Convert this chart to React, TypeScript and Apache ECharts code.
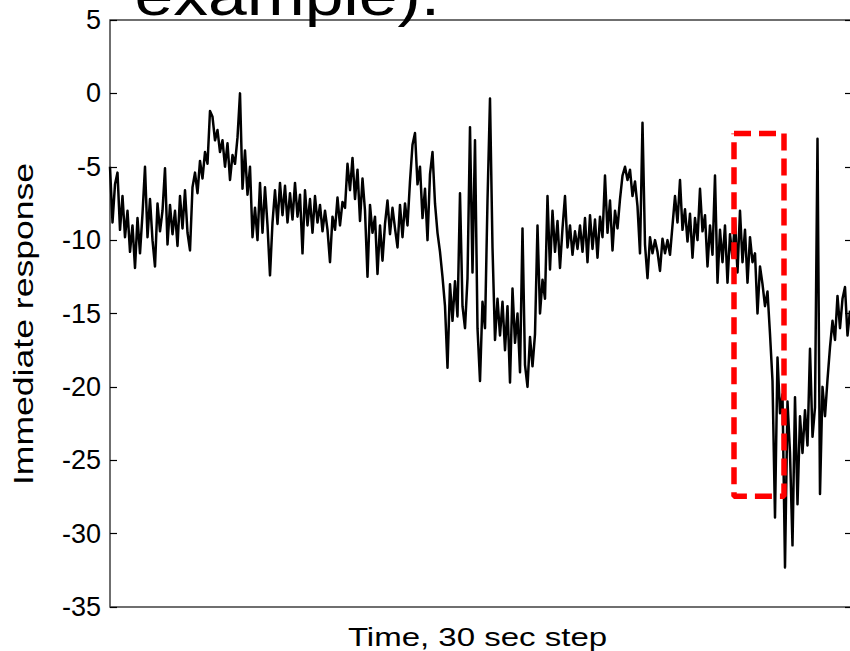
import React, { useEffect, useRef } from "react";
import * as echarts from "echarts";

// Immediate response, one value per sample (30 sec step)
const responseValues: number[] = [
  -5.0, -8.8, -6.2, -5.4, -9.3, -7.0, -9.8, -8.0, -10.8, -9.0,
  -11.9, -8.5, -10.9, -8.2, -5.0, -9.8, -7.2, -10.0, -11.8, -7.5,
  -9.4, -8.0, -5.1, -10.3, -7.6, -9.6, -8.0, -10.4, -7.0, -9.2,
  -6.6, -9.5, -10.7, -6.4, -5.4, -6.8, -4.6, -5.8, -4.0, -4.8,
  -1.2, -1.6, -3.2, -2.5, -4.0, -3.2, -5.0, -3.4, -5.9, -4.2,
  -4.8, -3.0, 0.0, -6.5, -3.9, -6.9, -5.0, -9.8, -7.8, -10.0,
  -6.1, -9.5, -6.4, -9.0, -12.4, -8.8, -6.6, -8.9, -6.1, -8.3,
  -6.3, -8.8, -6.8, -8.6, -6.1, -8.4, -6.9, -10.9, -6.6, -9.0,
  -7.2, -9.5, -7.0, -8.8, -7.6, -9.4, -8.0, -9.3, -11.5, -8.4,
  -9.3, -7.1, -9.0, -7.4, -7.8, -4.8, -6.6, -4.4, -7.2, -5.2,
  -8.7, -5.8, -8.0, -12.5, -7.6, -9.5, -8.4, -12.3, -9.0, -11.4,
  -8.9, -7.3, -9.6, -7.8, -9.2, -10.5, -7.6, -9.8, -7.5, -9.0,
  -6.0, -3.5, -2.7, -6.2, -5.0, -8.5, -6.5, -10.0, -5.5, -4.0,
  -7.5, -9.5, -10.8, -12.5, -14.5, -18.7, -13.0, -15.5, -12.8, -15.2,
  -6.8, -14.5, -16.0, -12.6, -2.3, -12.2, -3.2, -16.0, -19.6, -14.2,
  -16.0, -7.3, -0.35, -10.5, -16.8, -14.0, -16.5, -14.2, -17.5, -14.5,
  -19.7, -13.3, -17.0, -15.0, -19.0, -9.2, -18.5, -20.0, -16.6, -18.6,
  -16.4, -9.0, -15.0, -12.7, -14.0, -7.0, -12.0, -8.0, -10.8, -8.7,
  -11.9, -9.2, -7.0, -10.5, -9.0, -11.0, -9.4, -10.6, -9.0, -10.8,
  -8.5, -11.5, -8.3, -10.6, -8.6, -11.2, -8.4, -9.8, -5.6, -9.5,
  -7.3, -10.7, -8.0, -9.2, -7.2, -5.6, -5.0, -5.9, -5.2, -7.0,
  -6.0, -7.7, -10.9, -2.0, -10.3, -12.6, -9.8, -10.9, -10.0, -10.8,
  -12.1, -9.9, -10.9, -10.0, -11.0, -9.0, -7.0, -8.8, -5.9, -9.3,
  -7.9, -10.1, -8.2, -11.2, -8.5, -10.0, -6.5, -9.4, -8.3, -11.8,
  -9.0, -11.0, -5.6, -12.9, -9.3, -11.5, -9.0, -12.9, -9.6, -11.2,
  -8.6, -12.2, -8.0, -11.5, -9.3, -12.9, -9.8, -11.5, -10.9, -15.0,
  -11.8, -13.0, -14.5, -13.5, -16.4, -19.6, -28.9, -18.0, -21.8, -20.5,
  -32.3, -21.0, -24.5, -30.8, -20.7, -28.0, -22.0, -24.5, -21.6, -24.0,
  -17.4, -23.4, -21.4, -3.1, -27.3, -20.0, -22.0, -19.5, -17.3, -15.5,
  -16.8, -13.8, -16.0, -14.0, -13.2, -16.5, -14.8,
];

// Highlighted window (red dashed box): time-step range and response range
const boxTimes: number[] = [249.6, 269.6];
const boxResponses: number[] = [-2.73, -27.46];

// Y-axis ticks
const yTicks: number[] = [-35, -30, -25, -20, -15, -10, -5, 0, 5];

const titleText = "example).";
const xAxisTitle = "Time, 30 sec step";
const yAxisTitle = "Immediate response";

const FONT = "'Liberation Sans', Arial, Helvetica, sans-serif";

export default function App() {
  const ref = useRef<HTMLDivElement>(null);

  useEffect(() => {
    if (!ref.current) return;
    const chart = echarts.init(ref.current, undefined, { renderer: "svg" });

    const lineData = responseValues.map((v, i) => [i, v]);
    const [t0, t1] = boxTimes;
    const [rTop, rBot] = boxResponses;
    const boxData = [
      [t0, rTop],
      [t1, rTop],
      [t1, rBot],
      [t0, rBot],
      [t0, rTop],
    ];

    const yMin = yTicks[0];
    const yMax = yTicks[yTicks.length - 1];
    const yInterval = yTicks[1] - yTicks[0];

    chart.setOption({
      animation: false,
      backgroundColor: "#ffffff",
      grid: {
        left: 110,
        top: 20,
        width: 742,
        height: 587,
        show: true,
        borderColor: "#404040",
        borderWidth: 1.5,
        backgroundColor: "transparent",
      },
      xAxis: {
        type: "value",
        min: 0,
        max: 296.8,
        axisLine: { show: false },
        axisTick: { show: false },
        axisLabel: { show: false },
        splitLine: { show: false },
      },
      yAxis: [
        {
          type: "value",
          min: yMin,
          max: yMax,
          interval: yInterval,
          position: "left",
          axisLine: { show: false },
          axisTick: { show: true, inside: true, length: 7, lineStyle: { color: "#000", width: 1.2 } },
          axisLabel: {
            show: true,
            margin: 9,
            fontSize: 27,
            fontFamily: FONT,
            color: "#000",
          },
          splitLine: { show: false },
        },
        {
          type: "value",
          min: yMin,
          max: yMax,
          interval: yInterval,
          position: "right",
          axisLine: { show: false },
          axisTick: { show: true, inside: true, length: 7, lineStyle: { color: "#000", width: 1.2 } },
          axisLabel: { show: false },
          splitLine: { show: false },
        },
      ],
      series: [
        {
          type: "line",
          data: lineData,
          yAxisIndex: 0,
          showSymbol: false,
          symbol: "none",
          lineStyle: { color: "#000000", width: 2.5, join: "round" },
          silent: true,
        },
        {
          type: "line",
          data: boxData,
          yAxisIndex: 0,
          showSymbol: false,
          symbol: "none",
          lineStyle: { color: "#ff0000", width: 5.5, type: [17, 8], cap: "butt" },
          silent: true,
          z: 5,
        },
      ],
      graphic: [
        {
          type: "text",
          x: 134.5,
          y: -5,
          scaleX: 1.2,
          style: {
            text: titleText,
            font: `58px ${FONT}`,
            fill: "#000",
            align: "left",
            verticalAlign: "middle",
          },
        },
        {
          type: "text",
          x: 477.5,
          y: 637,
          scaleX: 1.27,
          style: {
            text: xAxisTitle,
            font: `26px ${FONT}`,
            fill: "#000",
            align: "center",
            verticalAlign: "middle",
          },
        },
        {
          type: "text",
          x: 23.5,
          y: 324,
          rotation: Math.PI / 2,
          scaleX: 1.27,
          style: {
            text: yAxisTitle,
            font: `28px ${FONT}`,
            fill: "#000",
            align: "center",
            verticalAlign: "middle",
          },
        },
      ],
    });

    return () => {
      chart.dispose();
    };
  }, []);

  return (
    <div
      ref={ref}
      style={{
        position: "fixed",
        left: 0,
        top: 0,
        width: 860,
        height: 651,
        background: "#ffffff",
      }}
    />
  );
}
